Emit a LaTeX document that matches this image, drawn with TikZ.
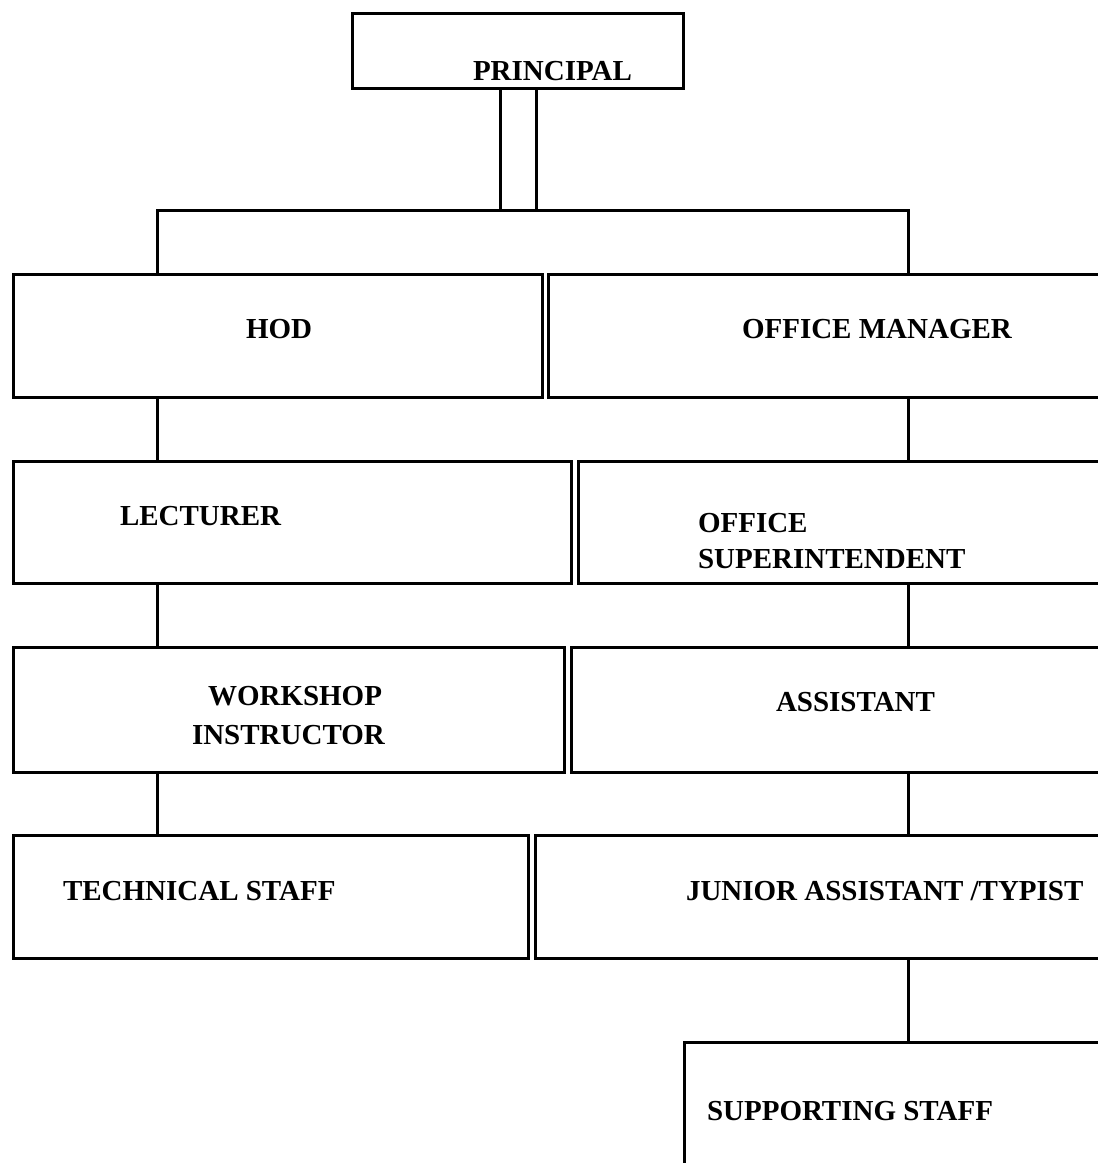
\documentclass[tikz,border=0pt]{standalone}
\usepackage{fontspec}
\setmainfont{Liberation Serif}
\begin{document}
\begin{tikzpicture}[x=1pt,y=-1pt,
  box/.style={draw, line width=3pt, rectangle, inner sep=0pt, outer sep=0pt, anchor=north west},
  lbl/.style={anchor=base west, inner sep=0pt, outer sep=0pt, font=\fontsize{29}{33}\selectfont\bfseries},
  link/.style={line width=3pt}]
\useasboundingbox (0,0) rectangle (1098,1163);
\clip (0,0) rectangle (1098,1163);
% column coordinates
\coordinate (colL) at (157,0);
\coordinate (colR) at (908,0);
\coordinate (pl) at (500,0);
\coordinate (pr) at (536,0);
\coordinate (bus) at (0,210);
% boxes
\node[box, minimum width=331pt, minimum height=75pt] (principal) at (352,13) {};
\node[box, minimum width=529pt, minimum height=123pt] (hod) at (13,274) {};
\node[box, minimum width=570pt, minimum height=123pt] (om) at (548,274) {};
\node[box, minimum width=558pt, minimum height=122pt] (lect) at (13,461) {};
\node[box, minimum width=540pt, minimum height=122pt] (os) at (578,461) {};
\node[box, minimum width=551pt, minimum height=125pt] (ws) at (13,647) {};
\node[box, minimum width=547pt, minimum height=125pt] (asst) at (571,647) {};
\node[box, minimum width=515pt, minimum height=123pt] (tech) at (13,835) {};
\node[box, minimum width=583pt, minimum height=123pt] (jat) at (535,835) {};
\node[box, minimum width=434pt, minimum height=140pt] (sup) at (684,1042) {};
% labels
\node[lbl] (tprincipal) at (473,80) {PRINCIPAL};
\node[lbl] (thod) at (246,338) {HOD};
\node[lbl] (tom) at (742,338) {OFFICE MANAGER};
\node[lbl] (tlect) at (120,525) {LECTURER};
\node[lbl] (tos1) at (698,532) {OFFICE};
\node[lbl] (tos2) at (698,568) {SUPERINTENDENT};
\node[lbl] (tws1) at (208,705) {WORKSHOP};
\node[lbl] (tws2) at (192,744) {INSTRUCTOR};
\node[lbl] (tasst) at (776,711) {ASSISTANT};
\node[lbl] (ttech) at (63,900) {TECHNICAL STAFF};
\node[lbl] (tjat) at (686,900) {JUNIOR ASSISTANT /TYPIST};
\node[lbl] (tsup) at (707,1120) {SUPPORTING STAFF};
% connectors
\draw[link] (principal.south -| pl) -- (pl |- bus);
\draw[link] (principal.south -| pr) -- (pr |- bus);
\draw[link] (hod.north -| colL) -- (colL |- bus) -- (colR |- bus) -- (om.north -| colR);
\draw[link] (hod.south -| colL) -- (lect.north -| colL);
\draw[link] (om.south -| colR) -- (os.north -| colR);
\draw[link] (lect.south -| colL) -- (ws.north -| colL);
\draw[link] (os.south -| colR) -- (asst.north -| colR);
\draw[link] (ws.south -| colL) -- (tech.north -| colL);
\draw[link] (asst.south -| colR) -- (jat.north -| colR);
\draw[link] (jat.south -| colR) -- (sup.north -| colR);
\end{tikzpicture}
\end{document}
